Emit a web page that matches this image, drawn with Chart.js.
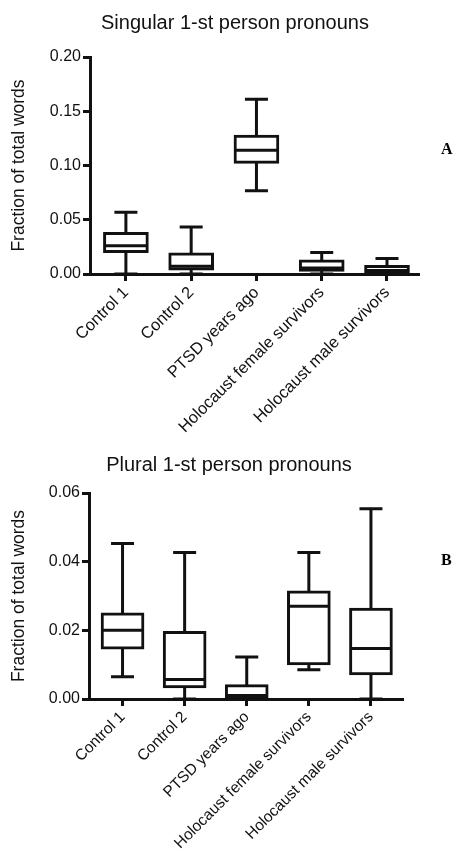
<!DOCTYPE html>
<html><head><meta charset="utf-8">
<script src="https://cdn.jsdelivr.net/npm/chart.js@4/dist/chart.umd.min.js"></script>
<style>
html,body{margin:0;padding:0;background:#fff;width:457px;height:853px;overflow:hidden;}
.panel{position:absolute;left:0;width:457px;}
.title{position:absolute;font-family:'Liberation Sans',Arial,sans-serif;font-size:20px;color:#111;white-space:nowrap;transform:translateX(-50%);line-height:1;}
.letter{position:absolute;font-family:'Liberation Serif','Times New Roman',serif;font-weight:bold;font-size:16px;color:#000;line-height:1;}
canvas{position:absolute;left:0;top:0;}
</style></head><body>
<div class="panel" style="top:0;height:440px;">
  <canvas id="cA" width="457" height="440"></canvas>
  <div class="title" style="left:235px;top:12px;">Singular 1-st person pronouns</div>
  <div class="letter" style="left:441px;top:141px;">A</div>
</div>
<div class="panel" style="top:440px;height:413px;">
  <canvas id="cB" width="457" height="413"></canvas>
  <div class="title" style="left:229px;top:14px;">Plural 1-st person pronouns</div>
  <div class="letter" style="left:441px;top:112px;">B</div>
</div>
<script>
const categories = ['Control 1', 'Control 2', 'PTSD years ago', 'Holocaust female survivors', 'Holocaust male survivors'];

// Panel A: singular 1-st person pronouns (box plot: min, q1, median, q3, max)
const singMin = [0, 0, 0.0767, 0, 0];
const singQ1  = [0.0196, 0.0035, 0.1020, 0.0023, 0.0012];
const singMed = [0.0260, 0.0072, 0.1140, 0.0055, 0.0032];
const singQ3  = [0.0384, 0.0196, 0.1280, 0.0130, 0.0081];
const singMax = [0.0570, 0.0433, 0.1610, 0.0198, 0.0143];
const singTicks = [0, 0.05, 0.10, 0.15, 0.20];

// Panel B: plural 1-st person pronouns
const plurMin = [0.0065, 0, 0, 0.0085, 0];
const plurQ1  = [0.0145, 0.0032, 0.0003, 0.0099, 0.0070];
const plurMed = [0.0200, 0.0057, 0.0010, 0.0270, 0.0147];
const plurQ3  = [0.0251, 0.0197, 0.0042, 0.0315, 0.0265];
const plurMax = [0.0453, 0.0427, 0.0122, 0.0427, 0.0554];
const plurTicks = [0, 0.02, 0.04, 0.06];

const FONT = "'Liberation Sans', Arial, sans-serif";
const INK = '#111';

const whiskerPlugin = {
  id: 'whiskers',
  beforeDatasetsDraw(chart) {
    const st = chart.options.plugins.whiskers;
    const xs = chart.scales.x, ys = chart.scales.y, ctx = chart.ctx;
    ctx.save();
    ctx.strokeStyle = INK; ctx.lineWidth = 3; ctx.lineCap = 'butt';
    st.min.forEach((mn, i) => {
      const x = xs.getPixelForValue(i);
      const yMin = ys.getPixelForValue(mn), yMax = ys.getPixelForValue(st.max[i]);
      ctx.beginPath();
      ctx.moveTo(x, yMin); ctx.lineTo(x, yMax);
      ctx.moveTo(x - st.cap / 2, yMax); ctx.lineTo(x + st.cap / 2, yMax);
      ctx.moveTo(x - st.cap / 2, yMin); ctx.lineTo(x + st.cap / 2, yMin);
      ctx.stroke();
    });
    ctx.restore();
  },
  afterDatasetsDraw(chart) {
    const st = chart.options.plugins.whiskers;
    const xs = chart.scales.x, ys = chart.scales.y, ctx = chart.ctx;
    ctx.save();
    ctx.strokeStyle = INK; ctx.lineWidth = 3;
    st.med.forEach((md, i) => {
      const x = xs.getPixelForValue(i);
      const y = ys.getPixelForValue(md);
      ctx.beginPath();
      ctx.moveTo(x - st.box / 2, y); ctx.lineTo(x + st.box / 2, y);
      ctx.stroke();
    });
    ctx.restore();
  }
};

function makeChart(id, q1, med, q3, mn, mx, ticks, opts) {
  const data = categories.map((c, i) => ({ x: i, y: [q1[i], q3[i]] }));
  return new Chart(document.getElementById(id), {
    type: 'bar',
    data: {
      datasets: [{
        data: data,
        backgroundColor: '#fff',
        borderColor: INK,
        borderWidth: 3,
        borderSkipped: false,
        barThickness: opts.box
      }]
    },
    options: {
      responsive: false,
      animation: false,
      devicePixelRatio: 1,
      layout: { padding: { top: opts.top, right: opts.right, left: 4, bottom: 0 } },
      plugins: {
        legend: { display: false },
        tooltip: { enabled: false },
        whiskers: { min: mn, max: mx, med: med, cap: opts.cap, box: opts.box - 3 }
      },
      scales: {
        x: {
          type: 'linear',
          offset: false,
          min: opts.xmin, max: opts.xmax,
          afterBuildTicks: s => { s.ticks = categories.map((c, i) => ({ value: i })); },
          afterFit: s => { s.height = opts.xh; },
          ticks: {
            autoSkip: false,
            minRotation: 45, maxRotation: 45,
            color: INK,
            padding: 2,
            font: { family: FONT, size: opts.lab },
            callback: v => categories[v]
          },
          grid: { display: true, offset: false, drawOnChartArea: false, drawTicks: true, tickLength: 7, color: INK, lineWidth: 3 },
          border: { display: true, color: INK, width: 3 }
        },
        y: {
          min: 0, max: ticks[ticks.length - 1],
          afterBuildTicks: s => { s.ticks = ticks.map(v => ({ value: v })); },
          afterFit: s => { s.width = opts.yw; },
          ticks: {
            color: INK,
            padding: 2,
            font: { family: FONT, size: 16 },
            callback: v => v.toFixed(2)
          },
          title: {
            display: true,
            text: 'Fraction of total words',
            color: INK,
            font: { family: FONT, size: 17.5 },
            padding: { top: 5, bottom: 0 }
          },
          grid: { display: true, drawOnChartArea: false, drawTicks: true, tickLength: 7, color: INK, lineWidth: 3 },
          border: { display: true, color: INK, width: 3 }
        }
      }
    },
    plugins: [whiskerPlugin]
  });
}

makeChart('cA', singQ1, singMed, singQ3, singMin, singMax, singTicks,
  { box: 45, cap: 23, top: 57, right: 39, xh: 166, yw: 86, xmin: -0.55, xmax: 4.475, lab: 16.5 });
makeChart('cB', plurQ1, plurMed, plurQ3, plurMin, plurMax, plurTicks,
  { box: 43, cap: 23, top: 53, right: 55, xh: 154, yw: 85, xmin: -0.54, xmax: 4.5, lab: 15.5 });
</script>
</body></html>
